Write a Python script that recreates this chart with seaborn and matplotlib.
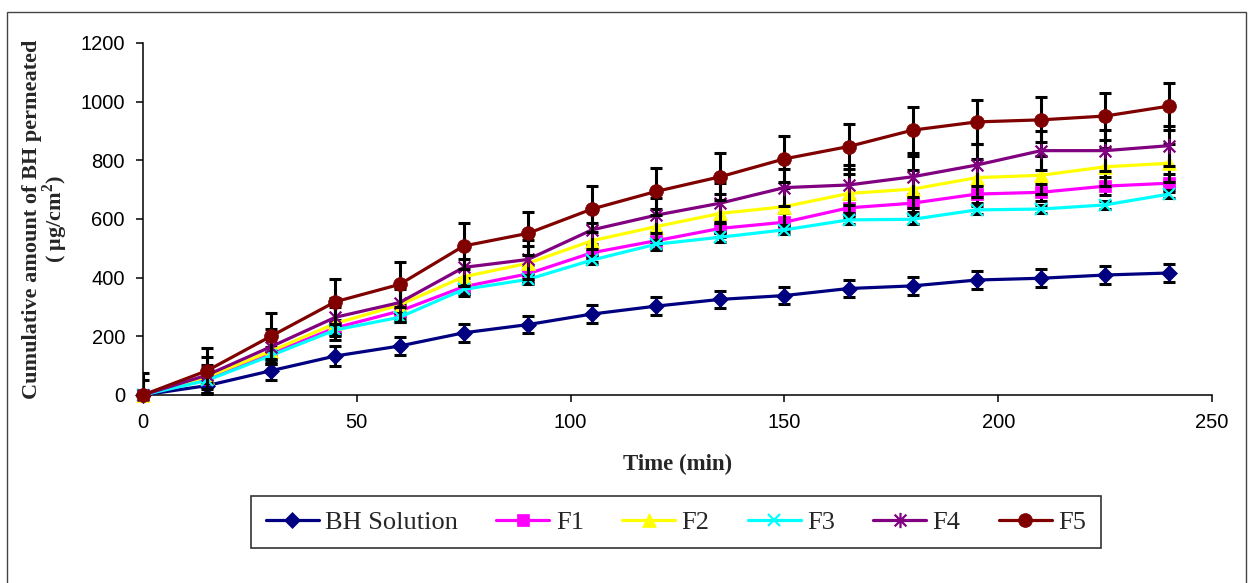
import numpy as np
import pandas as pd
import matplotlib
matplotlib.use("Agg")
import matplotlib.pyplot as plt
import seaborn as sns
from matplotlib.path import Path
from matplotlib.lines import Line2D
from matplotlib.patches import Rectangle

# ---------------- data ----------------
time_min = [0, 15, 30, 45, 60, 75, 90, 105, 120, 135, 150, 165, 180, 195, 210, 225, 240]
series_names = ["BH Solution", "F1", "F2", "F3", "F4", "F5"]
bh_solution = [0, 32, 83, 133, 167, 212, 240, 276, 303, 326, 339, 363, 372, 392, 398, 409, 416]
f1 = [0, 56, 142, 229, 286, 369, 413, 485, 526, 568, 589, 638, 654, 685, 691, 712, 722]
f2 = [0, 62, 150, 244, 307, 403, 449, 526, 574, 619, 642, 687, 702, 741, 749, 778, 790]
f3 = [0, 50, 135, 222, 265, 360, 394, 460, 514, 538, 563, 597, 599, 631, 634, 648, 685]
f4 = [0, 68, 165, 265, 315, 435, 462, 563, 613, 654, 707, 716, 744, 784, 833, 833, 850]
f5 = [0, 83, 201, 318, 377, 508, 551, 634, 694, 744, 805, 847, 903, 931, 938, 951, 985]

bh_err = [0, 30, 31, 34, 32, 30, 30, 30, 30, 30, 30, 30, 30, 30, 30, 30, 30]
f1_err = [0, 15, 20, 25, 25, 30, 30, 30, 30, 30, 30, 30, 30, 30, 30, 30, 30]
f2_err = [0, 40, 45, 55, 55, 60, 60, 60, 60, 65, 65, 65, 65, 65, 65, 65, 65]
f3_err = [0, 10, 15, 15, 15, 15, 15, 15, 15, 15, 15, 15, 15, 15, 15, 15, 15]
f4_err = [50, 60, 60, 65, 65, 65, 65, 65, 60, 68, 63, 68, 70, 70, 67, 70, 68]
f5_err = [75, 76, 77, 76, 78, 77, 74, 78, 79, 80, 78, 77, 78, 75, 77, 80, 80]

x_ticks = [0, 50, 100, 150, 200, 250]
y_ticks = [0, 200, 400, 600, 800, 1000, 1200]

values = [bh_solution, f1, f2, f3, f4, f5]
errors = [bh_err, f1_err, f2_err, f3_err, f4_err, f5_err]

df = pd.DataFrame({
    "time": np.tile(time_min, len(series_names)),
    "value": np.concatenate(values),
    "err": np.concatenate(errors),
    "series": np.repeat(series_names, len(time_min)),
})

# ---------------- style ----------------
sns.set_theme(style="white")
plt.rcParams["font.family"] = ["Liberation Sans", "DejaVu Sans"]
plt.rcParams["mathtext.fontset"] = "custom"
plt.rcParams["mathtext.rm"] = "Liberation Serif"
plt.rcParams["mathtext.bf"] = "Liberation Serif:bold"

asterisk = Path(
    [(-1, -1), (1, 1), (-1, 1), (1, -1), (0, -1.3), (0, 1.3)],
    [Path.MOVETO, Path.LINETO, Path.MOVETO, Path.LINETO, Path.MOVETO, Path.LINETO],
)

colors = ["#000080", "#FF00FF", "#FFFF00", "#00FFFF", "#800080", "#800000"]
markers = ["D", "s", "^", "x", asterisk, "o"]
msizes = [8, 8.5, 9.5, 9, 11, 10]
mfill = [True, True, True, False, False, True]

fig = plt.figure(figsize=(12.51, 5.83), dpi=100)
ax = fig.add_axes([143 / 1251, 1 - 395 / 583, (1212 - 143) / 1251, (395 - 43) / 583])

handles = []
for i, name in enumerate(series_names):
    sub = df[df["series"] == name]
    ax.errorbar(sub["time"], sub["value"], yerr=sub["err"], fmt="none",
                ecolor="black", elinewidth=2.2, capsize=4.3, capthick=2.2,
                zorder=2 + 2 * i)
    kw = dict(marker=markers[i], markersize=msizes[i], markeredgecolor=colors[i])
    if mfill[i]:
        kw["markerfacecolor"] = colors[i]
        kw["markeredgewidth"] = 0.5
    else:
        kw["markerfacecolor"] = "none"
        kw["markeredgewidth"] = 1.6
    sns.lineplot(data=sub, x="time", y="value", color=colors[i], linewidth=2.3,
                 ax=ax, zorder=3 + 2 * i, clip_on=False, legend=False, **kw)
    handles.append(Line2D([0], [0], color=colors[i], linewidth=2.3, **kw))

ax.set_xlim(0, 250)
ax.set_ylim(0, 1200)
ax.set_xticks(x_ticks)
ax.set_yticks(y_ticks)
ax.tick_params(axis="both", which="major", direction="out", length=5, width=1.1,
               color="black", labelsize=14.5, labelcolor="black", pad=8,
               left=True, bottom=True)
for side in ["top", "right"]:
    ax.spines[side].set_visible(False)
for side in ["left", "bottom"]:
    ax.spines[side].set_color("black")
    ax.spines[side].set_linewidth(1.1)
ax.set_facecolor("white")

ax.set_xlabel("Time (min)", family="Liberation Serif", fontweight="bold", fontsize=16.5)
ax.xaxis.set_label_coords(0.5, -0.168)
ax.set_ylabel("Cumulative amount of BH permeated\n( μg/cm$^{\\mathbf{2}}$)",
              family="Liberation Serif", fontweight="bold", fontsize=16, linespacing=0.9)
ax.yaxis.set_label_coords(-0.0685, 0.5)

leg = fig.legend(handles, series_names, loc="center", ncol=6,
                 bbox_to_anchor=(676 / 1251, 1 - 522 / 583),
                 prop={"family": "Liberation Serif", "size": 19},
                 frameon=True, fancybox=False, edgecolor="black",
                 handlelength=2.0, handletextpad=0.25, columnspacing=1.45,
                 borderpad=0.55, borderaxespad=0)
leg.get_frame().set_linewidth(1.2)

fig.patches.append(Rectangle((7 / 1251, -0.05), (1246 - 7) / 1251, 1.05 - 12 / 583,
                             transform=fig.transFigure, fill=False,
                             edgecolor="#444444", linewidth=1.0))

fig.savefig("out.png", dpi=100, facecolor="white")
